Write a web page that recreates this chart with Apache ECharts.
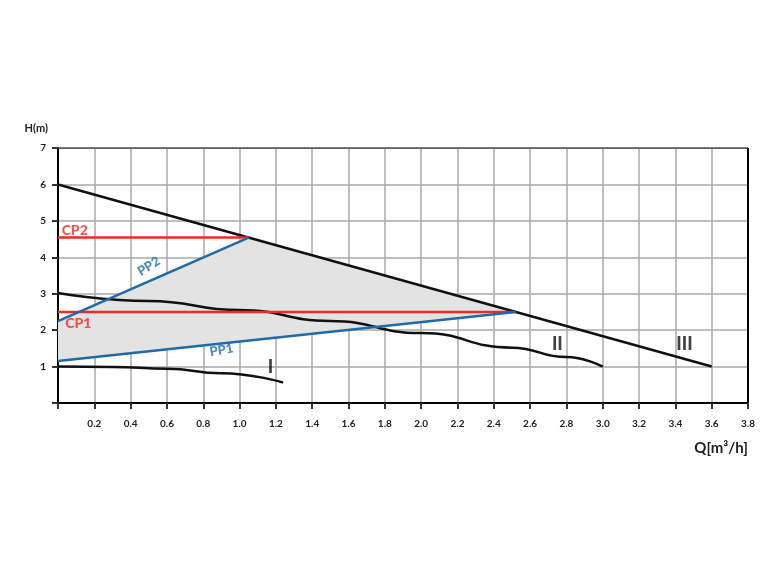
<!DOCTYPE html>
<html>
<head>
<meta charset="utf-8">
<script src="https://cdn.jsdelivr.net/npm/echarts@6/dist/echarts.min.js"></script>
<style>html,body{margin:0;padding:0;background:#fff}#main{width:774px;height:570px}</style>
</head>
<body>
<div id="main"></div>
<script>
var xTicks = [0, 0.2, 0.4, 0.6, 0.8, 1.0, 1.2, 1.4, 1.6, 1.8, 2.0, 2.2, 2.4, 2.6, 2.8, 3.0, 3.2, 3.4, 3.6, 3.8];
var curveI = [[0, 1.0], [0.3, 0.99], [0.6, 0.94], [0.9, 0.82], [1.24, 0.56]];
var curveII = [[0, 3.02], [0.5, 2.8], [1.0, 2.55], [1.5, 2.25], [2.0, 1.92], [2.5, 1.52], [2.8, 1.26], [3.0, 1.0]];
var curveIII = [[0, 6.0], [3.6, 1.0]];
var pp1 = [[0, 1.15], [2.52, 2.5]];
var pp2 = [[0, 2.25], [1.05, 4.54]];
var cp1 = [[0, 2.5], [2.52, 2.5]];
var cp2 = [[0, 4.54], [1.05, 4.54]];
var region = [[0, 2.25], [1.05, 4.54], [2.52, 2.5], [0, 1.15]];
var blackLabels = [[1.17, 0.97, 'I'], [2.75, 1.62, 'II'], [3.45, 1.62, 'III']];
var redLabels = [[0.02, 4.73, 'CP2'], [0.04, 2.17, 'CP1']];
var blueLabels = [[0.5, 3.75, 'PP2', 32], [0.9, 1.45, 'PP1', 10]];

var font = 'Lato, "DejaVu Sans", sans-serif';
function line(d, c) {
    return {type: 'line', data: d, showSymbol: false, smooth: d.length > 2 ? 0.5 : false,
        smoothMonotone: 'x', lineStyle: {color: c, width: 2.5}, z: 5, silent: true};
}
function labels(d, c, size, align) {
    return {type: 'scatter', symbolSize: 0, z: 6, silent: true,
        data: d.map(function (p) { return {value: [p[0], p[1]], label: {rotate: p[3] || 0}, name: p[2]}; }),
        label: {show: true, position: 'inside', align: align || 'center', formatter: '{b}', color: c,
            fontFamily: font, fontWeight: 900, fontSize: size}};
}
var chart = echarts.init(document.getElementById('main'));
chart.setOption({
    animation: false,
    grid: {left: 58, right: 26, top: 148, bottom: 167},
    xAxis: {
        type: 'value', min: 0, max: 3.8, interval: 0.2,
        name: 'Q[m³/h]', nameLocation: 'end', nameGap: 0,
        nameTextStyle: {fontFamily: font, fontWeight: 'bold', fontSize: 15, color: '#222',
            align: 'right', verticalAlign: 'top', padding: [38, 0, 0, 0]},
        axisLine: {lineStyle: {color: '#000', width: 2}},
        axisTick: {show: true, length: 6, lineStyle: {color: '#333', width: 2}},
        axisLabel: {fontFamily: font, fontWeight: 'bold', fontSize: 10, color: '#222', margin: 16,
            formatter: function (v) { return v === 0 ? '' : v.toFixed(1); }},
        splitLine: {lineStyle: {color: '#aaa', width: 1.5}}
    },
    yAxis: {
        type: 'value', min: 0, max: 7, interval: 1,
        name: 'H(m)', nameGap: 14,
        nameTextStyle: {fontFamily: font, fontWeight: 'bold', fontSize: 11, color: '#222', align: 'right', padding: [0, 10, 0, 0]},
        axisLine: {show: true, lineStyle: {color: '#000', width: 2}},
        axisTick: {show: true, length: 6, lineStyle: {color: '#333', width: 2}},
        axisLabel: {fontFamily: font, fontWeight: 'bold', fontSize: 10, color: '#222', margin: 12,
            formatter: function (v) { return v === 0 ? '' : v; }},
        splitLine: {lineStyle: {color: '#aaa', width: 1.5}}
    },
    series: [
        {type: 'custom', silent: true, z: 1, data: [0],
            renderItem: function (params, api) {
                return {type: 'polygon', shape: {points: region.map(function (p) { return api.coord(p); })},
                    style: {fill: '#e3e3e3'}};
            }},
        {type: 'line', data: [[3.8, 0], [3.8, 7]], showSymbol: false, lineStyle: {color: '#000', width: 2}, silent: true},
        {type: 'line', data: [[0, 7], [3.8, 7]], showSymbol: false, lineStyle: {color: '#444', width: 1.5}, silent: true},
        line(curveI, '#111'),
        line(curveII, '#111'),
        line(curveIII, '#111'),
        line(cp1, '#ee2a24'),
        line(cp2, '#ee2a24'),
        line(pp1, '#1f6aa8'),
        line(pp2, '#1f6aa8'),
        labels(blackLabels, '#111', 18),
        labels(redLabels, '#ee2a24', 14, 'left'),
        labels(blueLabels, '#1f6aa8', 13)
    ]
});
</script>
</body>
</html>
